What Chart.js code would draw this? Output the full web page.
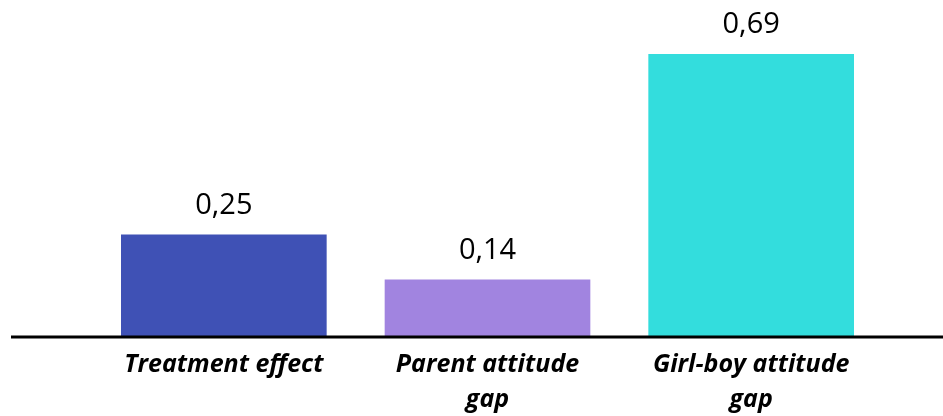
<!DOCTYPE html>
<html>
<head>
<meta charset="utf-8">
<script src="https://cdn.jsdelivr.net/npm/chart.js@4"></script>
<style>
    html, body { margin: 0; padding: 0; background: #fff; }
    #wrap { width: 943px; height: 416px; }
</style>
</head>
<body>
<div id="wrap"><canvas id="gapChart"></canvas></div>
<script>
// Kategori dan nilai
const categories = [['Treatment effect'], ['Parent attitude', 'gap'], ['Girl-boy attitude', 'gap']];
const values = [0.25, 0.14, 0.69];
const barColors = ['#3F51B5', '#A184E0', '#33DDDD'];

// Garis dasar hitam yang melebar sampai tepi kanan
const baselinePlugin = {
    id: 'baseline',
    afterDatasetsDraw(chart) {
        const ctx = chart.ctx;
        const y = chart.scales.y.getPixelForValue(0);
        ctx.save();
        ctx.strokeStyle = '#000';
        ctx.lineWidth = 3;
        ctx.beginPath();
        ctx.moveTo(11, y);
        ctx.lineTo(chart.width, y);
        ctx.stroke();
        ctx.restore();
    }
};

// Label angka di atas batang (format koma)
const valueLabelPlugin = {
    id: 'valueLabels',
    afterDatasetsDraw(chart) {
        const ctx = chart.ctx;
        const meta = chart.getDatasetMeta(0);
        ctx.save();
        ctx.font = '29px "Open Sans"';
        ctx.fillStyle = '#000';
        ctx.textAlign = 'center';
        ctx.textBaseline = 'middle';
        meta.data.forEach(function (bar, i) {
            const text = values[i].toFixed(2).replace('.', ',');
            ctx.fillText(text, bar.x, bar.y - 29);
        });
        ctx.restore();
    }
};

const ctx = document.getElementById('gapChart').getContext('2d');
const gapChart = new Chart(ctx, {
    type: 'bar',
    data: {
        labels: categories,
        datasets: [{
            data: values,
            backgroundColor: barColors,
            borderWidth: 0,
            categoryPercentage: 1,
            barPercentage: 0.78
        }]
    },
    options: {
        responsive: true,
        maintainAspectRatio: false,
        animation: false,
        layout: {
            padding: { left: 92, right: 60, top: 9, bottom: 0 }
        },
        plugins: {
            legend: { display: false },
            tooltip: { enabled: false }
        },
        scales: {
            x: {
                grid: { display: false, drawTicks: false },
                border: { display: false },
                ticks: {
                    color: '#000',
                    padding: 11,
                    maxRotation: 0,
                    font: { family: '"Open Sans"', size: 25, weight: 'bold', style: 'italic', lineHeight: 1.38 }
                },
                afterFit: function (scale) {
                    scale.height = 79;
                }
            },
            y: {
                display: false,
                min: 0,
                max: 0.8
            }
        }
    },
    plugins: [baselinePlugin, valueLabelPlugin]
});
</script>
</body>
</html>
